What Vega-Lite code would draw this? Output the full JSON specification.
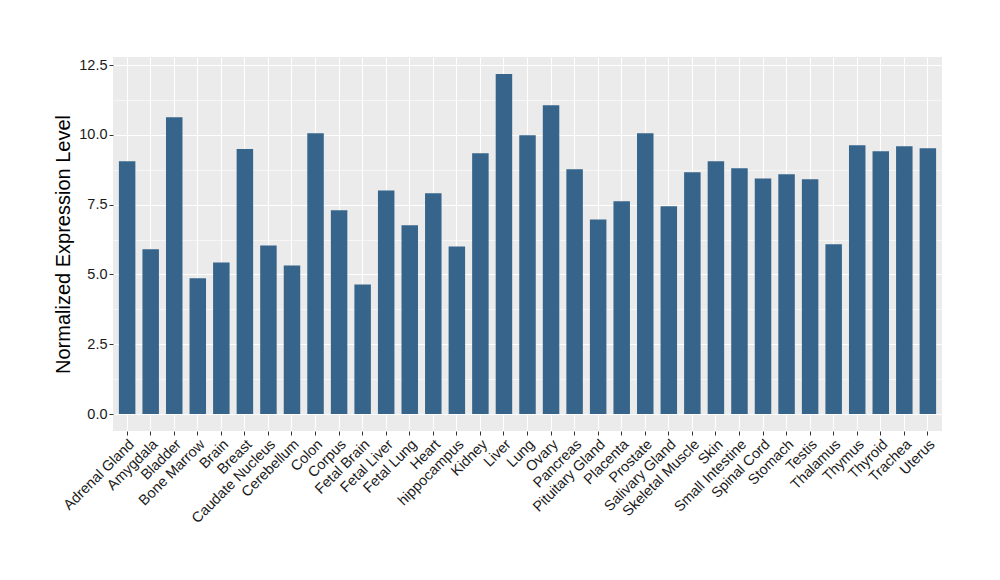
{
  "$schema": "https://vega.github.io/schema/vega-lite/v6.json",
  "width": 829,
  "height": 374,
  "autosize": "none",
  "padding": {"left": 113, "top": 57, "right": 58, "bottom": 149},
  "background": "white",
  "config": {
    "view": {"fill": "#EBEBEB", "stroke": null},
    "font": "Liberation Sans"
  },
  "data": {
    "values": [
      {"tissue": "Adrenal Gland", "value": 9.05},
      {"tissue": "Amygdala", "value": 5.90},
      {"tissue": "Bladder", "value": 10.63},
      {"tissue": "Bone Marrow", "value": 4.86},
      {"tissue": "Brain", "value": 5.43},
      {"tissue": "Breast", "value": 9.49},
      {"tissue": "Caudate Nucleus", "value": 6.04},
      {"tissue": "Cerebellum", "value": 5.32},
      {"tissue": "Colon", "value": 10.06},
      {"tissue": "Corpus", "value": 7.30},
      {"tissue": "Fetal Brain", "value": 4.64},
      {"tissue": "Fetal Liver", "value": 8.01},
      {"tissue": "Fetal Lung", "value": 6.76},
      {"tissue": "Heart", "value": 7.91},
      {"tissue": "hippocampus", "value": 6.00},
      {"tissue": "Kidney", "value": 9.34},
      {"tissue": "Liver", "value": 12.18},
      {"tissue": "Lung", "value": 9.99},
      {"tissue": "Ovary", "value": 11.06},
      {"tissue": "Pancreas", "value": 8.77},
      {"tissue": "Pituitary Gland", "value": 6.97},
      {"tissue": "Placenta", "value": 7.62},
      {"tissue": "Prostate", "value": 10.06},
      {"tissue": "Salivary Gland", "value": 7.44},
      {"tissue": "Skeletal Muscle", "value": 8.66},
      {"tissue": "Skin", "value": 9.05},
      {"tissue": "Small Intestine", "value": 8.80},
      {"tissue": "Spinal Cord", "value": 8.44},
      {"tissue": "Stomach", "value": 8.59},
      {"tissue": "Testis", "value": 8.41},
      {"tissue": "Thalamus", "value": 6.08},
      {"tissue": "Thymus", "value": 9.63},
      {"tissue": "Thyroid", "value": 9.41},
      {"tissue": "Trachea", "value": 9.59},
      {"tissue": "Uterus", "value": 9.52}
    ]
  },
  "mark": {"type": "bar", "color": "#36648B"},
  "encoding": {
    "x": {
      "field": "tissue",
      "type": "nominal",
      "sort": null,
      "scale": {"paddingInner": 0.3, "paddingOuter": 0.25},
      "axis": {
        "title": null,
        "bandPosition": 0.5,
        "grid": true,
        "gridColor": "white",
        "gridWidth": 1.1,
        "domain": false,
        "tickColor": "#333333",
        "tickSize": 4,
        "tickWidth": 1,
        "labelAngle": -45,
        "labelAlign": "right",
        "labelBaseline": "top",
        "labelFontSize": 14.5,
        "labelColor": "#1a1a1a",
        "labelPadding": 2,
        "labelOverlap": false
      }
    },
    "y": {
      "field": "value",
      "type": "quantitative",
      "scale": {"domain": [-0.609, 12.789], "nice": false, "zero": false},
      "axis": {
        "title": "Normalized Expression Level",
        "titleFontSize": 20,
        "titleFontWeight": "normal",
        "titleColor": "black",
        "titlePadding": 5,
        "values": [0, 1.25, 2.5, 3.75, 5, 6.25, 7.5, 8.75, 10, 11.25, 12.5],
        "labelExpr": "datum.value % 2.5 === 0 ? format(datum.value, '.1f') : ''",
        "grid": true,
        "gridColor": "white",
        "gridWidth": {"condition": {"test": "datum.value % 2.5 === 0", "value": 1.1}, "value": 0.55},
        "domain": false,
        "tickColor": "#333333",
        "tickSize": {"condition": {"test": "datum.value % 2.5 === 0", "value": 4}, "value": 0},
        "labelFontSize": 14.5,
        "labelColor": "#1a1a1a",
        "labelPadding": 2
      }
    }
  }
}
